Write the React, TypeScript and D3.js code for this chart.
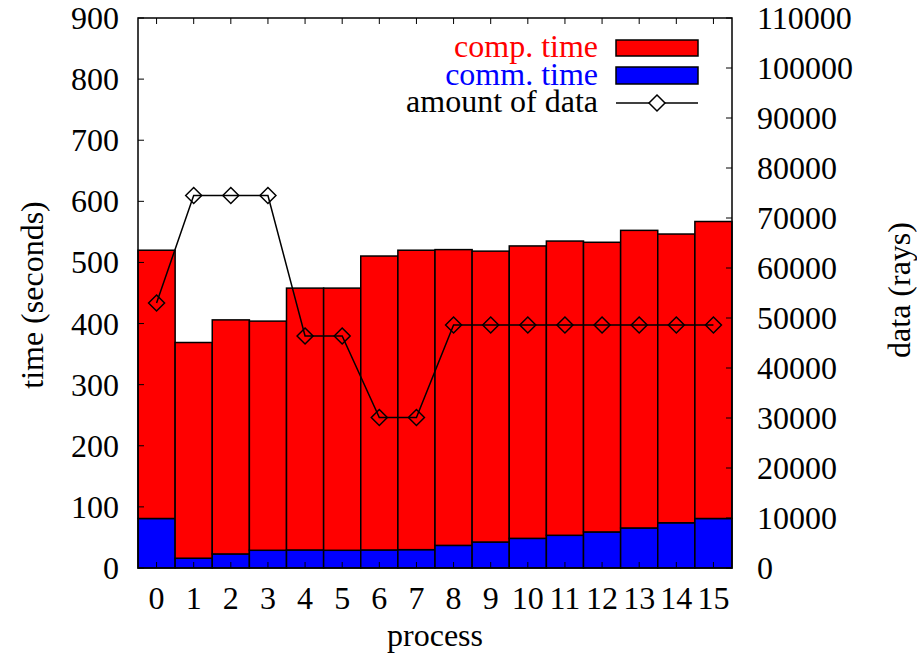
import React from 'react';
import * as d3 from 'd3';

// process ids
const processes = ['0', '1', '2', '3', '4', '5', '6', '7', '8', '9', '10', '11', '12', '13', '14', '15'];
// communication time (seconds), bottom of the stack
const commTime = [81, 16, 23, 29, 29.5, 29, 29.5, 30, 37, 42.5, 48.5, 53.5, 59, 65.5, 74, 81];
// computation time (seconds), stacked on top
const compTime = [439, 353, 383, 375, 428.5, 429, 481, 490, 484, 476, 478.5, 481.5, 474, 487, 472.5, 486];
// amount of data (rays), right axis
const rays = [53000, 74500, 74500, 74500, 46400, 46400, 30100, 30100, 48600, 48600, 48600, 48600, 48600, 48600, 48600, 48600];

const leftTicks = [0, 100, 200, 300, 400, 500, 600, 700, 800, 900];
const rightTicks = [0, 10000, 20000, 30000, 40000, 50000, 60000, 70000, 80000, 90000, 100000, 110000];

const W = 917;
const H = 658;
const m = { left: 138, right: 732, top: 18, bottom: 568 };
const FONT = '"Liberation Serif", "Times New Roman", "DejaVu Serif", serif';
const FS = 32;

const App = () => {
  const x = d3.scaleBand().domain(processes).range([m.left, m.right]).padding(0);
  const y = d3.scaleLinear().domain([0, 900]).range([m.bottom, m.top]);
  const y2 = d3.scaleLinear().domain([0, 110000]).range([m.bottom, m.top]);

  const stacked = processes.map((p, i) => ({ p, comm: commTime[i], comp: compTime[i] }));
  const cx = (p: string) => (x(p) as number) + x.bandwidth() / 2;
  const line = d3
    .line<number>()
    .x((_, i) => cx(processes[i]))
    .y((d) => y2(d));

  const diamond = (px: number, py: number, r = 8) =>
    `M${px},${py - r}L${px + r},${py}L${px},${py + r}L${px - r},${py}Z`;

  const tick = 6;

  return (
    <svg width={W} height={H} style={{ position: 'absolute', left: 0, top: 0, fontFamily: FONT }}>
      <rect width={W} height={H} fill="white" />

      {/* stacked bars */}
      {stacked.map((d) => {
        const bx = x(d.p) as number;
        return (
          <g key={d.p}>
            <rect x={bx} y={y(d.comm)} width={x.bandwidth()} height={y(0) - y(d.comm)}
              fill="#0000ff" stroke="black" strokeWidth={1.5} />
            <rect x={bx} y={y(d.comm + d.comp)} width={x.bandwidth()} height={y(d.comm) - y(d.comm + d.comp)}
              fill="#ff0000" stroke="black" strokeWidth={1.5} />
          </g>
        );
      })}

      {/* amount of data line */}
      <path d={line(rays) || ''} fill="none" stroke="black" strokeWidth={1.5} />
      {rays.map((r, i) => (
        <path key={i} d={diamond(cx(processes[i]), y2(r))} fill="none" stroke="black" strokeWidth={1.5} />
      ))}

      {/* border */}
      <rect x={m.left} y={m.top} width={m.right - m.left} height={m.bottom - m.top}
        fill="none" stroke="black" strokeWidth={1.5} />

      {/* left axis */}
      {leftTicks.map((t) => (
        <g key={t}>
          <line x1={m.left} x2={m.left + tick} y1={y(t)} y2={y(t)} stroke="black" strokeWidth={1} />
          <text x={119} y={y(t) + 11} textAnchor="end" fontSize={FS}>{t}</text>
        </g>
      ))}

      {/* right axis */}
      {rightTicks.map((t) => (
        <g key={t}>
          <line x1={m.right} x2={m.right - tick} y1={y2(t)} y2={y2(t)} stroke="black" strokeWidth={1} />
          <text x={757} y={y2(t) + 11} textAnchor="start" fontSize={FS}>{t}</text>
        </g>
      ))}

      {/* x axis */}
      {processes.map((p) => (
        <g key={p}>
          <line x1={cx(p)} x2={cx(p)} y1={m.bottom} y2={m.bottom - tick} stroke="black" strokeWidth={1} />
          <line x1={cx(p)} x2={cx(p)} y1={m.top} y2={m.top + tick} stroke="black" strokeWidth={1} />
          <text x={cx(p)} y={609} textAnchor="middle" fontSize={FS}>{p}</text>
        </g>
      ))}

      {/* axis titles */}
      <text x={435} y={646} textAnchor="middle" fontSize={FS}>process</text>
      <text transform={`translate(33,295) rotate(-90)`} dy="0.3em" textAnchor="middle" fontSize={FS}>time (seconds)</text>
      <text transform={`translate(900,290) rotate(-90)`} dy="0.3em" textAnchor="middle" fontSize={FS}>data (rays)</text>

      {/* legend */}
      <text x={598} y={57} textAnchor="end" fontSize={FS} fill="#ff0000">comp. time</text>
      <rect x={616} y={40} width={82} height={16} fill="#ff0000" stroke="black" strokeWidth={1.5} />
      <text x={598} y={85} textAnchor="end" fontSize={FS} fill="#0000ff">comm. time</text>
      <rect x={616} y={67} width={82} height={17} fill="#0000ff" stroke="black" strokeWidth={1.5} />
      <text x={598} y={112} textAnchor="end" fontSize={FS} fill="black">amount of data</text>
      <line x1={616} x2={698} y1={103} y2={103} stroke="black" strokeWidth={1.5} />
      <path d={diamond(657, 103)} fill="white" stroke="black" strokeWidth={1.5} />
    </svg>
  );
};

export default App;
